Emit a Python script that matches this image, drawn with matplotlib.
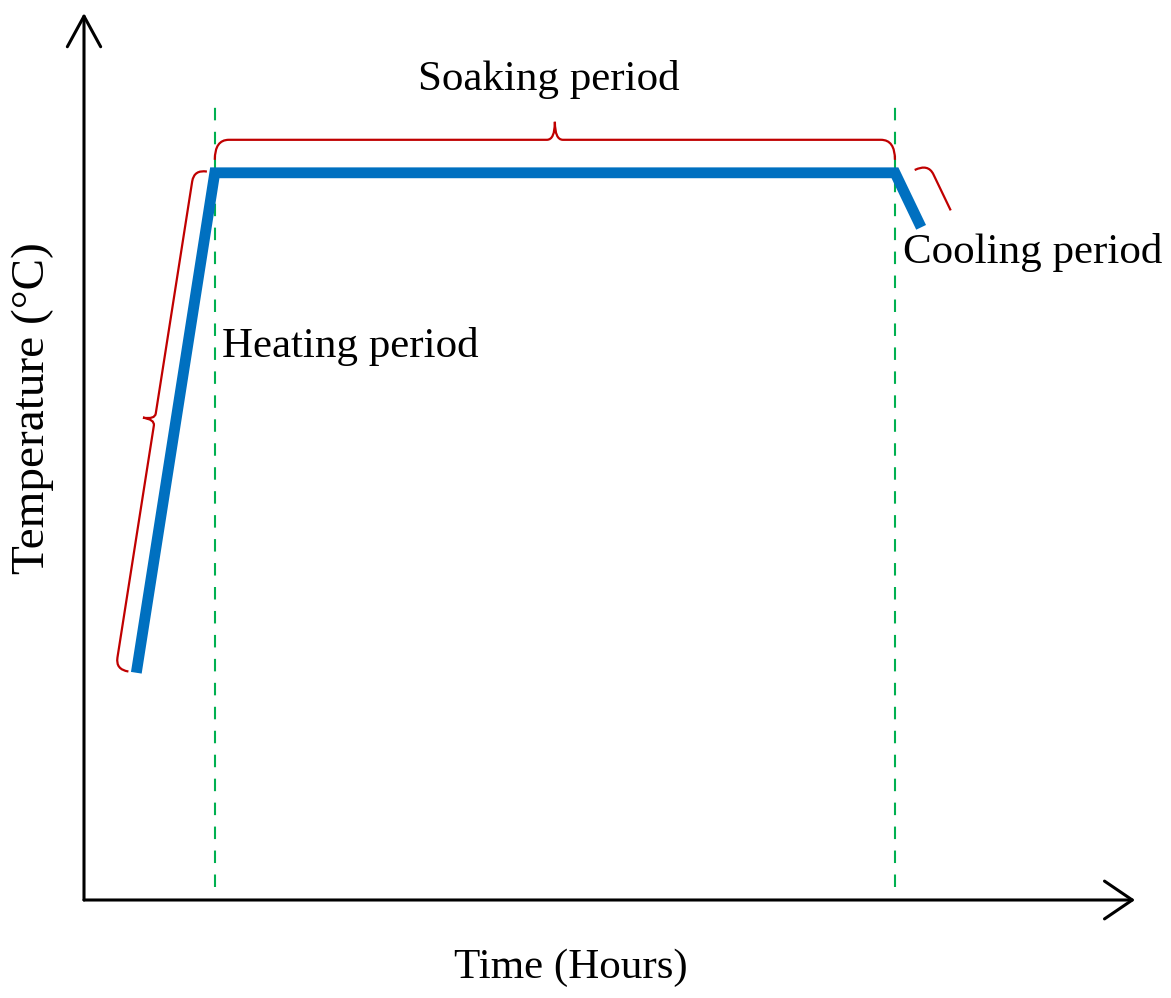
import matplotlib
matplotlib.use('Agg')
import matplotlib.pyplot as plt
import numpy as np
from matplotlib.path import Path
from matplotlib.patches import PathPatch

plt.rcParams['font.family'] = ['Liberation Serif', 'DejaVu Serif']
plt.rcParams['font.size'] = 31

# heat treatment profile (schematic)
time_h = [0.4, 1.0, 6.2, 6.4]
temp_c = [250, 800, 800, 740]
phase_labels = ['Heating period', 'Soaking period', 'Cooling period']
x_label = 'Time (Hours)'
y_label = 'Temperature (°C)'

blue = '#0070C0'
red = '#C00000'
green = '#00B050'

W, H = 1171, 998
X0, Y0 = 84, 900          # origin in pixels (from left, from top)
XS, YS = 130.8, 0.909     # pixels per hour, pixels per degree

fig = plt.figure(figsize=(W / 100, H / 100), dpi=100)
ax = fig.add_axes([0, 0, 1, 1])
ax.set_xlim(-X0 / XS, (W - X0) / XS)
ax.set_ylim(-(H - Y0) / YS, Y0 / YS)
ax.axis('off')


def px(x, y):
    # pixel position (top-left origin) -> data units
    return (x - X0) / XS, (Y0 - y) / YS


# axes with arrows
arr = dict(lw=2.2, color='black', shrinkA=0, shrinkB=0, mutation_scale=20)
ax.annotate('', xy=px(X0, 13), xytext=(0, 0),
            arrowprops=dict(arr, arrowstyle='->,head_length=1.1,head_width=0.6'))
ax.annotate('', xy=px(1135, Y0), xytext=(0, 0),
            arrowprops=dict(arr, arrowstyle='->,head_length=1.0,head_width=0.68'))

# dashed phase boundaries
for t in (time_h[1], time_h[2]):
    ax.plot([t, t], [px(0, 887)[1], px(0, 100)[1]], color=green, lw=1.5,
            dashes=(6, 5.5))

# profile
ax.plot(time_h, temp_c, color=blue, lw=7.8, solid_joinstyle='miter',
        solid_capstyle='butt', zorder=3)


def brace(i, j, off, h, c, r, r2, s0=0.0, half=None):
    a = ax.transData.transform((time_h[i], temp_c[i]))
    b = ax.transData.transform((time_h[j], temp_c[j]))
    d = (b - a) / np.linalg.norm(b - a)
    n = np.array([-d[1], d[0]])
    p0 = a + d * s0 + n * off
    p1 = b + n * off
    q0 = p0 + n * h
    q1 = p1 + n * h
    m = (q0 + q1) / 2
    if half is not None:
        verts = [p0, q0, q0 + d * r, a + n * (off + h) + d * half]
        codes = [Path.MOVETO, Path.CURVE3, Path.CURVE3, Path.LINETO]
    else:
        verts = [p0, q0, q0 + d * r, m - d * r2, m, m + n * c, m,
                 m + d * r2, q1 - d * r, q1, p1]
        codes = [Path.MOVETO, Path.CURVE3, Path.CURVE3, Path.LINETO,
                 Path.CURVE3, Path.CURVE3, Path.CURVE3, Path.CURVE3,
                 Path.LINETO, Path.CURVE3, Path.CURVE3]
    verts = ax.transData.inverted().transform(np.array(verts))
    ax.add_patch(PathPatch(Path(verts, codes), fill=False, edgecolor=red,
                           lw=1.6, zorder=2))


brace(0, 1, off=8, h=13, c=12, r=12, r2=6)
brace(1, 2, off=13, h=20, c=18, r=14, r2=8)
brace(2, 3, off=19, h=15, c=0, r=12, r2=0, s0=6, half=58)

# labels
ax.text(*px(222, 347), phase_labels[0], ha='left', va='center')
ax.text(*px(549, 80), phase_labels[1], ha='center', va='center')
ax.text(*px(903, 253), phase_labels[2], ha='left', va='center')
ax.text(*px(571, 968), x_label, ha='center', va='center')
ax.text(*px(33, 408), y_label, ha='center', va='center', rotation=90,
        fontsize=34)

fig.savefig('out.png', dpi=100)
